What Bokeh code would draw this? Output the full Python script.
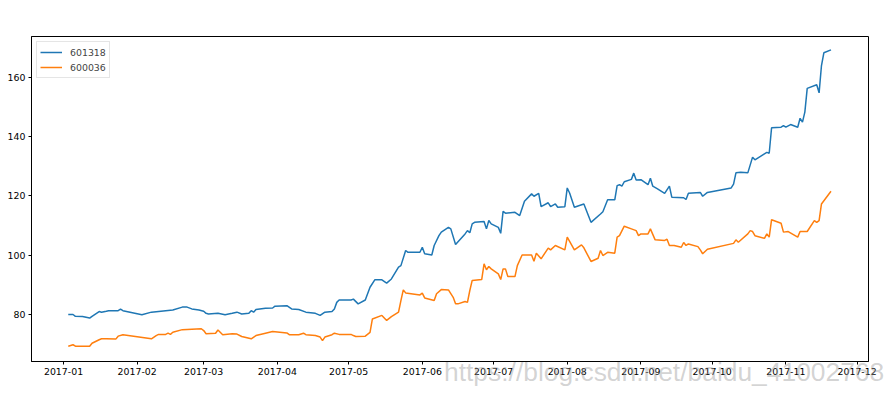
import pandas as pd
from bokeh.plotting import figure
from bokeh.layouts import column
from bokeh.models import (Range1d, FixedTicker, DatetimeTickFormatter, Legend,
                          LegendItem, Div)
from bokeh.embed import file_html
from bokeh.resources import INLINE

series_names = ["601318", "600036"]

dates_601318 = [
    "2017-01-03", "2017-01-05", "2017-01-06", "2017-01-09", "2017-01-12", "2017-01-13",
    "2017-01-16", "2017-01-17", "2017-01-19", "2017-01-20", "2017-01-24", "2017-01-25",
    "2017-01-26", "2017-02-03", "2017-02-07", "2017-02-13", "2017-02-16", "2017-02-20",
    "2017-02-22", "2017-02-24", "2017-02-27", "2017-03-01", "2017-03-02", "2017-03-03",
    "2017-03-07", "2017-03-10", "2017-03-13", "2017-03-15", "2017-03-17", "2017-03-20",
    "2017-03-21", "2017-03-22", "2017-03-23", "2017-03-27", "2017-03-30", "2017-03-31",
    "2017-04-05", "2017-04-07", "2017-04-10", "2017-04-13", "2017-04-17", "2017-04-19",
    "2017-04-21", "2017-04-24", "2017-04-25", "2017-04-26", "2017-04-27", "2017-05-02",
    "2017-05-03", "2017-05-05", "2017-05-08", "2017-05-10", "2017-05-12", "2017-05-15",
    "2017-05-17", "2017-05-19", "2017-05-22", "2017-05-23", "2017-05-25", "2017-05-26",
    "2017-05-31", "2017-06-01", "2017-06-02", "2017-06-05", "2017-06-06", "2017-06-08",
    "2017-06-09", "2017-06-12", "2017-06-13", "2017-06-15", "2017-06-19", "2017-06-20",
    "2017-06-21", "2017-06-22", "2017-06-23", "2017-06-27", "2017-06-28", "2017-06-29",
    "2017-06-30", "2017-07-03", "2017-07-04", "2017-07-05", "2017-07-06", "2017-07-10",
    "2017-07-12", "2017-07-14", "2017-07-17", "2017-07-18", "2017-07-20", "2017-07-21",
    "2017-07-24", "2017-07-25", "2017-07-27", "2017-07-28", "2017-07-31", "2017-08-01",
    "2017-08-02", "2017-08-04", "2017-08-08", "2017-08-11", "2017-08-15", "2017-08-16",
    "2017-08-18", "2017-08-21", "2017-08-22", "2017-08-23", "2017-08-24", "2017-08-25",
    "2017-08-28", "2017-08-29", "2017-08-30", "2017-09-01", "2017-09-04", "2017-09-05",
    "2017-09-06", "2017-09-08", "2017-09-11", "2017-09-13", "2017-09-14", "2017-09-19",
    "2017-09-20", "2017-09-21", "2017-09-26", "2017-09-27", "2017-09-29", "2017-10-09",
    "2017-10-10", "2017-10-11", "2017-10-13", "2017-10-16", "2017-10-18", "2017-10-19",
    "2017-10-24", "2017-10-25", "2017-10-26", "2017-10-30", "2017-10-31", "2017-11-01",
    "2017-11-03", "2017-11-06", "2017-11-07", "2017-11-08", "2017-11-09", "2017-11-10",
    "2017-11-14", "2017-11-15", "2017-11-16", "2017-11-17", "2017-11-20",
]
values_601318 = [
    80.0, 80.0, 79.4, 79.3, 78.8, 79.4,
    81.0, 80.8, 81.1, 81.3, 81.3, 81.8,
    81.3, 79.9, 80.8, 81.3, 81.5, 82.5,
    82.5, 81.9, 81.5, 81.1, 80.4, 80.2,
    80.4, 79.9, 80.4, 80.8, 80.2, 80.4,
    81.3, 80.8, 81.7, 82.1, 82.2, 82.8,
    83.0, 81.9, 81.7, 80.8, 80.4, 79.7,
    80.8, 81.0, 81.9, 84.1, 84.9, 84.9,
    85.2, 83.6, 84.9, 89.2, 91.7, 91.7,
    90.6, 92.0, 96.0, 96.5, 101.6, 101.0,
    101.0, 102.7, 100.5, 100.1, 103.3, 106.6,
    107.8, 109.4, 108.9, 103.6, 107.2, 108.3,
    107.6, 110.6, 111.1, 111.4, 108.9, 111.7,
    110.6, 109.4, 107.4, 114.8, 114.2, 114.5,
    113.4, 118.2, 120.7, 119.9, 120.9, 116.4,
    117.7, 116.4, 117.3, 116.2, 116.4, 122.7,
    121.0, 116.2, 117.3, 111.1, 113.9, 114.7,
    118.7, 118.7, 123.5, 123.8, 123.3, 124.8,
    125.6, 127.7, 125.4, 125.5, 123.8, 126.0,
    123.3, 122.4, 120.9, 123.3, 119.6, 119.4,
    118.8, 120.9, 121.2, 119.9, 121.2, 122.7,
    124.0, 127.8, 128.0, 127.8, 133.1, 132.2,
    134.7, 134.4, 143.0, 143.2, 143.7, 143.2,
    144.1, 143.2, 146.2, 144.9, 148.3, 156.3,
    157.5, 154.8, 164.0, 168.3, 169.3,
]

dates_600036 = [
    "2017-01-03", "2017-01-05", "2017-01-06", "2017-01-12", "2017-01-13", "2017-01-16",
    "2017-01-17", "2017-01-19", "2017-01-23", "2017-01-24", "2017-01-26", "2017-02-07",
    "2017-02-09", "2017-02-10", "2017-02-13", "2017-02-14", "2017-02-15", "2017-02-16",
    "2017-02-20", "2017-02-28", "2017-03-01", "2017-03-02", "2017-03-06", "2017-03-07",
    "2017-03-09", "2017-03-13", "2017-03-15", "2017-03-17", "2017-03-21", "2017-03-23",
    "2017-03-27", "2017-03-30", "2017-04-05", "2017-04-06", "2017-04-10", "2017-04-12",
    "2017-04-13", "2017-04-17", "2017-04-19", "2017-04-20", "2017-04-21", "2017-04-24",
    "2017-04-25", "2017-04-27", "2017-05-02", "2017-05-03", "2017-05-04", "2017-05-08",
    "2017-05-10", "2017-05-11", "2017-05-15", "2017-05-17", "2017-05-19", "2017-05-22",
    "2017-05-23", "2017-05-24", "2017-05-25", "2017-05-31", "2017-06-01", "2017-06-02",
    "2017-06-06", "2017-06-07", "2017-06-09", "2017-06-12", "2017-06-14", "2017-06-15",
    "2017-06-16", "2017-06-19", "2017-06-20", "2017-06-21", "2017-06-22", "2017-06-26",
    "2017-06-27", "2017-06-28", "2017-06-29", "2017-06-30", "2017-07-03", "2017-07-04",
    "2017-07-05", "2017-07-06", "2017-07-07", "2017-07-10", "2017-07-11", "2017-07-13",
    "2017-07-17", "2017-07-18", "2017-07-19", "2017-07-21", "2017-07-24", "2017-07-25",
    "2017-07-27", "2017-07-31", "2017-08-01", "2017-08-04", "2017-08-07", "2017-08-08",
    "2017-08-11", "2017-08-14", "2017-08-15", "2017-08-16", "2017-08-18", "2017-08-21",
    "2017-08-22", "2017-08-23", "2017-08-25", "2017-08-28", "2017-08-30", "2017-08-31",
    "2017-09-01", "2017-09-04", "2017-09-05", "2017-09-07", "2017-09-11", "2017-09-12",
    "2017-09-13", "2017-09-15", "2017-09-18", "2017-09-19", "2017-09-20", "2017-09-21",
    "2017-09-25", "2017-09-26", "2017-09-27", "2017-09-29", "2017-10-10", "2017-10-11",
    "2017-10-12", "2017-10-16", "2017-10-17", "2017-10-18", "2017-10-19", "2017-10-23",
    "2017-10-24", "2017-10-25", "2017-10-26", "2017-10-30", "2017-10-31", "2017-11-02",
    "2017-11-06", "2017-11-07", "2017-11-10", "2017-11-13", "2017-11-14", "2017-11-15",
    "2017-11-16", "2017-11-20",
]
values_600036 = [
    69.3, 69.8, 69.3, 69.3, 70.3, 71.5,
    71.8, 71.8, 71.7, 72.7, 73.2, 71.8,
    72.9, 73.3, 73.3, 73.7, 73.3, 74.0,
    74.9, 75.2, 74.6, 73.5, 73.7, 74.8,
    73.2, 73.5, 73.4, 72.6, 71.8, 72.9,
    73.7, 74.3, 73.8, 73.2, 73.2, 73.7,
    73.2, 72.9, 72.4, 71.2, 72.4, 73.2,
    73.7, 73.3, 73.3, 72.9, 72.6, 72.7,
    74.0, 78.5, 79.7, 78.0, 79.3, 80.8,
    84.7, 88.3, 87.3, 86.6, 87.2, 85.6,
    84.7, 87.0, 88.4, 88.3, 85.8, 83.6,
    83.6, 84.4, 84.1, 88.1, 91.5, 91.8,
    97.1, 95.1, 96.2, 95.4, 93.7, 91.8,
    95.4, 95.4, 92.8, 92.8, 96.5, 100.1,
    100.1, 98.0, 100.7, 98.8, 102.4, 101.8,
    103.3, 101.8, 106.1, 101.8, 103.5, 102.5,
    97.9, 99.0, 101.6, 99.9, 101.0, 100.7,
    106.1, 106.6, 109.8, 108.9, 108.3, 106.6,
    107.2, 107.2, 108.9, 105.2, 105.0, 105.4,
    103.3, 103.3, 102.7, 104.3, 103.3, 103.8,
    102.9, 101.8, 100.5, 102.0, 104.0, 105.2,
    104.4, 107.2, 108.3, 108.0, 106.6, 105.7,
    107.2, 106.1, 112.0, 110.8, 107.8, 108.0,
    106.1, 108.0, 108.0, 111.7, 111.1, 111.7,
    117.3, 121.6,
]

x_tick_dates = ["2017-01-01", "2017-02-01", "2017-03-01", "2017-04-01", "2017-05-01",
                "2017-06-01", "2017-07-01", "2017-08-01", "2017-09-01", "2017-10-01",
                "2017-11-01", "2017-12-01"]
y_ticks = [80, 100, 120, 140, 160]
watermark = "https://blog.csdn.net/baidu_41002768"

colors = ["#1f77b4", "#ff7f0e"]
FONT = "DejaVu Sans"
FS = "9.4px"


def to_ms(ts):
    return pd.Timestamp(ts).value / 1e6


p = figure(
    x_axis_type="datetime",
    output_backend="svg",
    toolbar_location=None,
    frame_width=837, frame_height=325,
    min_border_left=31, min_border_right=23, min_border_top=36, min_border_bottom=33,
    x_range=Range1d(pd.Timestamp("2016-12-18 12:40"), pd.Timestamp("2017-12-05 19:00")),
    y_range=Range1d(64.15, 173.8),
    background_fill_color="white",
    border_fill_color="white",
)
p.grid.visible = False
p.outline_line_color = "black"
p.outline_line_width = 1

r1 = p.line(pd.to_datetime(dates_601318), values_601318, line_color=colors[0], line_width=1.5)
r2 = p.line(pd.to_datetime(dates_600036), values_600036, line_color=colors[1], line_width=1.5)

p.xaxis.ticker = FixedTicker(ticks=[to_ms(d) for d in x_tick_dates])
p.xaxis.formatter = DatetimeTickFormatter(
    years="%Y-%m", months="%Y-%m", days="%Y-%m", hours="%Y-%m",
    minutes="%Y-%m", seconds="%Y-%m", milliseconds="%Y-%m", microseconds="%Y-%m")
p.yaxis.ticker = FixedTicker(ticks=y_ticks)

for ax in (p.xaxis[0], p.yaxis[0]):
    ax.major_tick_in = 0
    ax.major_tick_out = 3
    ax.minor_tick_in = 0
    ax.minor_tick_out = 0
    ax.major_tick_line_color = "black"
    ax.axis_line_color = "black"
    ax.major_label_text_font = FONT
    ax.major_label_text_font_size = FS
    ax.major_label_text_color = "black"
    ax.major_label_standoff = 3

legend = Legend(items=[LegendItem(label=series_names[0], renderers=[r1]),
                       LegendItem(label=series_names[1], renderers=[r2])],
                location="top_left")
legend.margin = 5
legend.padding = 3
legend.spacing = 1
legend.glyph_width = 22
legend.glyph_height = 14
legend.label_height = 14
legend.label_standoff = 8
legend.label_text_font = FONT
legend.label_text_font_size = FS
legend.label_text_baseline = "middle"
legend.border_line_color = "#cccccc"
legend.border_line_width = 1
legend.background_fill_color = "white"
legend.background_fill_alpha = 0.8
p.add_layout(legend)

wm = Div(text=watermark, styles={
    "position": "absolute", "left": "439px", "top": "354px",
    "font-family": "Liberation Sans", "font-size": "26.4px", "line-height": "1",
    "color": "rgba(150,150,150,0.42)", "white-space": "nowrap",
    "pointer-events": "none", "z-index": "10",
})

page = column(p, wm)
open("out.html", "w").write(file_html(page, INLINE))
